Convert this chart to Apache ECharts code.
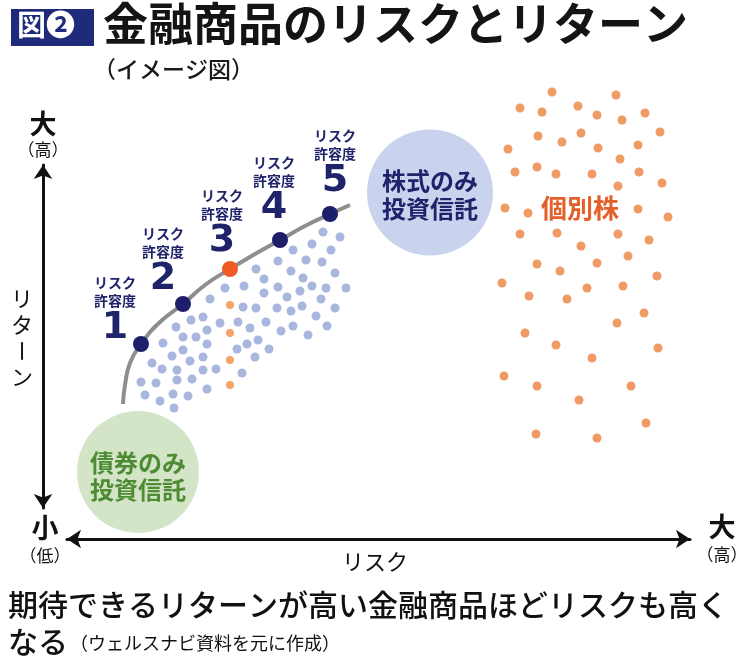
<!DOCTYPE html>
<html><head><meta charset="utf-8">
<script src="https://cdn.jsdelivr.net/npm/echarts@6/dist/echarts.min.js"></script>
<style>html,body{margin:0;padding:0;background:#fff}#c{width:750px;height:672px}</style>
</head><body><div id="c"></div>
<script>
// ---- data (risk = x, return = y, arbitrary illustrative units) ----
const toleranceLevels = ['1','2','3','4','5'];
const tolerancePoints = [[10.1,19.6],[14.3,23.6],[19.0,27.1],[24.0,30.0],[29.0,32.6]];
const frontierCurve = [[8.3,13.6],[8.5,15.5],[9.0,17.7],[10.1,19.6],[12.0,21.8],[14.3,23.6],[16.5,25.5],[19.0,27.1],[21.5,28.6],[24.0,30.0],[26.5,31.4],[29.0,32.6],[31.0,33.5]];
const fundDots = [
 [18.5,25.2],[17.0,24.1],[15.1,22.0],[16.3,22.3],[18.0,21.7],[13.6,21.3],[16.7,21.0],[14.3,20.3],[15.6,20.3],[12.3,19.7],
 [16.7,19.6],[14.3,19.0],[13.2,18.4],[15.0,17.9],[16.3,18.3],[11.2,17.7],[12.2,17.1],[13.7,17.0],[16.3,17.0],[17.6,17.1],
 [10.1,15.8],[11.6,15.7],[13.7,16.0],[15.2,16.1],[16.7,15.1],[10.5,14.5],[12.0,13.9],[13.3,14.6],[14.8,14.4],[13.4,13.2],
 [28.3,30.8],[30.0,30.3],[27.2,29.6],[25.3,29.0],[29.1,29.0],[23.8,27.9],[26.6,28.0],[28.2,27.8],[21.6,27.1],[25.1,26.9],
 [22.4,26.1],[26.3,26.2],[29.5,26.7],[20.4,25.4],[23.8,25.3],[26.0,24.9],[27.2,25.4],[28.6,25.2],[30.6,25.2],[22.4,24.7],
 [24.7,24.3],[28.1,24.1],[20.3,23.3],[21.6,23.2],[23.7,23.2],[25.1,22.9],[26.2,23.4],[29.5,23.2],[27.6,22.4],[19.8,21.8],
 [22.6,21.8],[21.0,21.2],[25.3,21.4],[24.1,20.9],[28.7,21.4],[26.8,20.5],[21.8,20.0],[20.7,19.6],[19.7,19.1],[22.9,19.1],
 [21.5,18.3],[20.2,16.7]
];
const midDots = [[19.0,23.5],[19.0,20.7],[19.0,18.0],[19.0,15.5]];
const stockDots = [
 [51.2,44.8],[57.6,44.5],[48.0,43.2],[50.2,42.8],[53.8,43.4],[55.7,42.5],[58.2,42.0],[60.5,42.7],[49.8,40.4],[52.2,39.8],
 [54.1,40.7],[55.8,39.2],[59.8,39.5],[62.0,40.8],[46.8,39.1],[58.0,38.1],[47.5,36.8],[49.7,37.3],[51.6,36.6],[55.2,36.6],
 [59.9,36.8],[62.2,35.7],[57.8,35.4],[46.5,33.2],[48.8,32.7],[59.8,33.1],[62.8,32.3],[48.0,30.6],[51.7,30.7],[54.1,29.4],
 [57.8,30.6],[60.9,30.0],[58.8,28.4],[49.7,27.6],[52.0,26.9],[55.7,27.7],[61.7,26.4],[46.2,25.7],[48.9,24.4],[52.7,24.1],
 [54.7,25.2],[58.3,25.4],[60.4,22.7],[57.7,21.7],[48.5,20.7],[51.6,19.5],[55.2,18.2],[61.8,19.2],[46.4,16.4],[49.7,15.4],
 [59.1,15.4],[53.9,14.0],[60.6,11.7],[49.6,10.6],[55.7,10.2]
];
const groupNames = ['株式のみ\n投資信託','債券のみ\n投資信託'];
const groupCenters = [[39.0,34.75],[9.8,6.8]];
const titleText = '金融商品のリスクとリターン';
const subtitleText = '（イメージ図）';
const xAxisName = 'リスク';
const yAxisChars = ['リ','タ','ー','ン'];
const noteLine1 = '期待できるリターンが高い金融商品ほどリスクも高く';
const noteLine2 = 'なる';
const sourceText = '（ウェルスナビ資料を元に作成）';

const JP = '"Noto Sans CJK JP", sans-serif';
const NAVY = '#1f2369';
const labelOffsets = [[-26,-34],[-20,-43],[-8,-46],[-6,-50],[5,-51]];

const chart = echarts.init(document.getElementById('c'), null, {renderer:'canvas'});
const hidden = {show:false};
const yNameGraphics = yAxisChars.map((c,i)=>({
  type:'text', x:22, y:299 + i*26, rotation: c==='ー' ? -Math.PI/2 : 0,
  style:{text:c, fill:'#111', font:'22px '+JP, align:'center', verticalAlign:'middle'}
}));
chart.setOption({
  animation:false,
  backgroundColor:'#fff',
  grid:[
    {left:40, top:80, width:700, height:460},
    {left:67, right:60, top:400, bottom:133},
    {left:43, width:50, top:165, bottom:164}
  ],
  xAxis:[
    {gridIndex:0, type:'value', min:0, max:70, show:false},
    {gridIndex:1, type:'value', min:0, max:1, axisLine:{show:true, symbol:['arrow','arrow'], symbolSize:[14,14], lineStyle:{color:'#111', width:3}}, axisTick:hidden, axisLabel:hidden, splitLine:hidden},
    {gridIndex:2, type:'value', min:0, max:1, show:false}
  ],
  yAxis:[
    {gridIndex:0, type:'value', min:0, max:46, show:false},
    {gridIndex:1, type:'value', min:0, max:1, show:false},
    {gridIndex:2, type:'value', min:0, max:1, axisLine:{show:true, symbol:['arrow','arrow'], symbolSize:[14,14], lineStyle:{color:'#111', width:3}}, axisTick:hidden, axisLabel:hidden, splitLine:hidden}
  ],
  series:[
    {type:'scatter', xAxisIndex:0, yAxisIndex:0, z:1, silent:true,
     data:[
      {value:groupCenters[0], symbolSize:126, itemStyle:{color:'#c9d3ee', opacity:1},
       label:{show:true, position:'inside', formatter:groupNames[0], color:NAVY, fontFamily:JP, fontWeight:'bold', fontSize:24, lineHeight:28, offset:[0,2]}},
      {value:groupCenters[1], symbolSize:122, itemStyle:{color:'#d4e4c6', opacity:1},
       label:{show:true, position:'inside', formatter:groupNames[1], color:'#4d8c34', fontFamily:JP, fontWeight:'bold', fontSize:24, lineHeight:27, offset:[0,4]}}
     ]},
    {type:'line', xAxisIndex:0, yAxisIndex:0, data:frontierCurve, smooth:0.5, showSymbol:false, z:2,
     lineStyle:{color:'#8e8e8e', width:4}},
    {type:'scatter', xAxisIndex:0, yAxisIndex:0, data:fundDots, symbolSize:9, z:3, itemStyle:{color:'#a9b7df', opacity:1}},
    {type:'scatter', xAxisIndex:0, yAxisIndex:0, data:midDots, symbolSize:8, z:3, itemStyle:{color:'#f3a466', opacity:1}},
    {type:'scatter', xAxisIndex:0, yAxisIndex:0, data:stockDots, symbolSize:9, z:3, itemStyle:{color:'#f09a66', opacity:1}},
    {type:'scatter', xAxisIndex:0, yAxisIndex:0, z:5, symbolSize:16,
     data: tolerancePoints.map((p,i)=>({
       value:p,
       itemStyle:{color: i===2 ? '#f15a24' : '#1d1f6a', opacity:1},
       label:{show:true, position:'inside', offset:labelOffsets[i],
         formatter:'{a|リスク}\n{a|許容度}\n{n|'+toleranceLevels[i]+'}',
         rich:{
           a:{fontFamily:JP, fontWeight:'bold', fontSize:14, lineHeight:18, color:NAVY, align:'center'},
           n:{fontFamily:'"DejaVu Sans", sans-serif', fontWeight:'bold', fontSize:38, lineHeight:36, color:NAVY, align:'center'}
         }}
     }))}
  ],
  graphic:[
    {type:'rect', left:11, top:9, shape:{width:83, height:37}, style:{fill:'#1f2a7a'}},
    {type:'text', left:17, top:10, style:{text:'図❷', fill:'#fff', font:'bold 29px '+JP}},
    {type:'text', left:103, top:1, style:{text:titleText, fill:'#141414', font:'bold 45px '+JP}},
    {type:'text', left:93, top:58, style:{text:subtitleText, fill:'#1a1a1a', font:'500 23px '+JP}},
    {type:'text', x:43, y:124, style:{text:'大', fill:'#111', font:'bold 27px '+JP, align:'center', verticalAlign:'middle'}},
    {type:'text', x:43, y:150, style:{text:'（高）', fill:'#111', font:'17px '+JP, align:'center', verticalAlign:'middle'}},
    {type:'text', x:45, y:528, style:{text:'小', fill:'#111', font:'bold 27px '+JP, align:'center', verticalAlign:'middle'}},
    {type:'text', x:45, y:556, style:{text:'（低）', fill:'#111', font:'17px '+JP, align:'center', verticalAlign:'middle'}},
    {type:'text', x:722, y:527, style:{text:'大', fill:'#111', font:'bold 27px '+JP, align:'center', verticalAlign:'middle'}},
    {type:'text', x:722, y:555, style:{text:'（高）', fill:'#111', font:'17px '+JP, align:'center', verticalAlign:'middle'}},
    {type:'text', x:375, y:562, style:{text:xAxisName, fill:'#111', font:'22px '+JP, align:'center', verticalAlign:'middle'}},
    ...yNameGraphics,
    {type:'text', x:580, y:208, style:{text:'個別株', fill:'#e4602a', font:'bold 26px '+JP, align:'center', verticalAlign:'middle'}},
    {type:'text', left:8, top:590, style:{text:noteLine1, fill:'#111', font:'500 30px '+JP}},
    {type:'text', left:8, top:627, style:{text:noteLine2, fill:'#111', font:'500 30px '+JP}},
    {type:'text', left:70, top:634, style:{text:sourceText, fill:'#111', font:'18px '+JP}}
  ]
});
</script></body></html>
